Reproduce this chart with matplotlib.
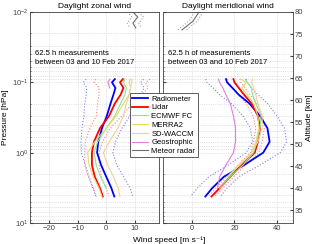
# Tageslicht-Wind: zonal und meridional, Radiometer vs. Lidar vs. Modelle
import numpy as np
import matplotlib
matplotlib.use('Agg')
import matplotlib.pyplot as plt

plt.rcParams['font.family'] = ['Liberation Sans', 'DejaVu Sans']
plt.rcParams['font.size'] = 5.5

# Druckniveaus [hPa]
p = np.array([0.09, 0.1, 0.12, 0.15, 0.2, 0.3, 0.45, 0.7, 1.0, 1.5, 2.2, 3.2, 4.2])

# Zonalwind [m/s]
u_rad = np.array([3.0, 2.0, 3.2, 2.5, 1.5, 0.2, -1.5, -2.8, -3.2, -1.8, 0.0, 1.8, 2.8])
u_rad_err = np.array([10, 10, 10, 9.5, 9, 8, 7, 6, 5.5, 5.5, 6, 6.5, 6.5])
u_lid = np.array([5.8, 4.8, 6.0, 5.0, 3.0, 1.0, -2.2, -4.3, -5.0, -5.0, -4.0, -2.2, -1.2])
u_lid_err = np.array([9.5, 9, 8.5, 7.5, 6, 4.5, 3.5, 3, 2.5, 2.5, 2.3, 2.2, 2.2])
u_ecmwf = np.array([6.5, 6.0, 7.0, 6.5, 5.0, 3.0, 0.0, -3.0, -4.2, -3.5, -2.0, 0.0])
u_merra = np.array([8.3, 8.0, 8.5, 8.0, 6.0, 3.5, 0.0, -4.0, -6.5, -6.0, -4.5, -2.5, -1.5])
u_waccm = np.array([9.0, 8.8, 8.5, 8.0, 7.0, 6.0, 4.0, 1.0, -1.0, 0.5, 2.5, 4.2, 4.8])
p_geo_u = np.array([0.09, 0.1, 0.12])
u_geo = np.array([1.3, 0.6, 1.2])

# Meridionalwind [m/s]
v_rad = np.array([16.0, 16.5, 19.0, 22.0, 27.0, 32.0, 35.5, 36.5, 33.5, 24.5, 15.0, 9.5, 6.3])
v_rad_err = np.array([9.5, 9.5, 9, 9, 8.5, 8, 8, 8, 8, 7.5, 7, 7, 7])
v_lid = np.array([19.5, 20.0, 22.0, 24.5, 28.0, 31.0, 32.0, 31.0, 29.5, 23.5, 18.0, 13.0, 9.2])
v_lid_err = np.array([3, 3, 3, 2.8, 2.5, 2.3, 2, 2, 2, 1.8, 1.6, 1.5, 1.5])
v_ecmwf = np.array([25.0, 26.0, 28.0, 28.5, 30.0, 32.5, 32.0, 30.5, 29.0, 24.0, 18.0, 13.0])
v_merra = np.array([23.0, 25.5, 23.5, 26.0, 29.0, 31.0, 31.5, 30.0, 28.0, 22.5, 17.0])
v_waccm = np.array([28.5, 28.0, 29.0, 30.0, 31.0, 33.0, 33.0, 31.0, 28.0, 22.0, 16.5])
v_geo = np.array([12.5, 13.0, 14.5, 16.0, 18.0, 19.5, 20.5, 20.5, 19.5, 16.0, 13.0, 12.0])

# Meteorradar (oben)
p_met = np.array([0.010, 0.0118, 0.0144, 0.0169])
u_met = np.array([9.3, 11.0, 9.3, 10.3])
p_met_v = np.array([0.010, 0.0135, 0.018])
v_met = np.array([3.3, 0.5, -4.7])
met_err = 2.0

c_rad = '#0000ff'
c_lid = '#ff0000'
c_ecm = '#8fe38f'
c_mer = '#e6da6e'
c_wac = '#f5cf99'
c_geo = '#e07ee0'
c_met = '#6e6e6e'

fig = plt.figure(figsize=(3.2, 2.44), dpi=100)
ax1 = fig.add_axes([30/320, 21/244, 129/320, 211/244])
ax2 = fig.add_axes([163/320, 21/244, 130/320, 211/244], sharey=ax1)


def profile(ax, prad, rad, rad_err, lid, lid_err, ecm, mer, wac, pgeo, geo, pmet, met):
    ax.plot(rad - rad_err, prad, ':', color='#7f7fff', lw=0.8)
    ax.plot(rad + rad_err, prad, ':', color='#7f7fff', lw=0.8)
    ax.plot(lid - lid_err, prad, ':', color='#ff8080', lw=0.8)
    ax.plot(lid + lid_err, prad, ':', color='#ff8080', lw=0.8)
    ax.plot(rad, prad, color=c_rad, lw=1.3, label='Radiometer')
    ax.plot(lid, prad, color=c_lid, lw=1.3, label='Lidar')
    ax.plot(ecm, prad[:len(ecm)], color=c_ecm, lw=0.8, label='ECMWF FC')
    ax.plot(mer, prad[:len(mer)], color=c_mer, lw=0.8, label='MERRA2')
    ax.plot(wac, prad[:len(wac)], color=c_wac, lw=0.8, label='SD-WACCM')
    ax.plot(geo, pgeo, color=c_geo, lw=0.8, label='Geostrophic')
    ax.plot(met, pmet, color=c_met, lw=0.8, label='Meteor radar')
    ax.plot(met - met_err, pmet, ':', color='#a0a0a0', lw=0.8)
    ax.plot(met + met_err, pmet, ':', color='#a0a0a0', lw=0.8)


profile(ax1, p, u_rad, u_rad_err, u_lid, u_lid_err, u_ecmwf, u_merra, u_waccm,
        p_geo_u, u_geo, p_met, u_met)
profile(ax2, p, v_rad, v_rad_err, v_lid, v_lid_err, v_ecmwf, v_merra, v_waccm,
        p[:len(v_geo)], v_geo, p_met_v, v_met)

for ax in (ax1, ax2):
    ax.set_yscale('log')
    ax.grid(True, which='both', ls=':', color='#c8c8c8', lw=0.5)
    ax.tick_params(which='both', direction='in', colors='#404040', length=2, pad=1.2)
    ax.tick_params(which='minor', length=1)
    for s in ax.spines.values():
        s.set_color('#404040')
        s.set_linewidth(0.6)

ax1.set_ylim(10, 0.01)
ax1.set_xlim(-26.6, 18.4)
ax1.set_xticks([-20, -10, 0, 10])
ax2.set_xlim(-13.6, 47.5)
ax2.set_xticks([0, 20, 40])
ax2.tick_params(labelleft=False)

ax1.set_title('Daylight zonal wind', fontsize=6, pad=3)
ax2.set_title('Daylight meridional wind', fontsize=6, pad=3)
ax1.set_ylabel('Pressure [hPa]', fontsize=6, labelpad=2)

ax1.text(0.04, 0.82, '62.5 h measurements\nbetween 03 and 10 Feb 2017',
         transform=ax1.transAxes, fontsize=5.5, va='top', linespacing=1.5)
ax2.text(0.04, 0.82, '62.5 h of measurements\nbetween 03 and 10 Feb 2017',
         transform=ax2.transAxes, fontsize=5.5, va='top', linespacing=1.5)

# Hoehenachse rechts
ax3 = ax2.twinx()
ax3.set_ylim(32.1, 79.8)
ax3.set_yticks(np.arange(35, 81, 5))
ax3.tick_params(direction='in', colors='#404040', length=2, pad=1.5)
ax3.set_ylabel('Altitude [km]', fontsize=6, labelpad=2)
for s in ax3.spines.values():
    s.set_visible(False)

fig.text(169/320, 0.0, 'Wind speed [m s\u207b\u00b9]', ha='center', va='bottom', fontsize=6)

# Legende ueber beiden Achsen
handles, labels = ax1.get_legend_handles_labels()
leg = fig.legend(handles, labels, loc='upper left', bbox_to_anchor=(130/320, 1 - 93/244),
                 fontsize=5.5, handlelength=2.1, handletextpad=0.4, borderpad=0.3,
                 labelspacing=0.18, framealpha=1, fancybox=False, borderaxespad=0)
leg.get_frame().set_edgecolor('#404040')
leg.get_frame().set_linewidth(0.6)

fig.savefig('out.png', dpi=100)
